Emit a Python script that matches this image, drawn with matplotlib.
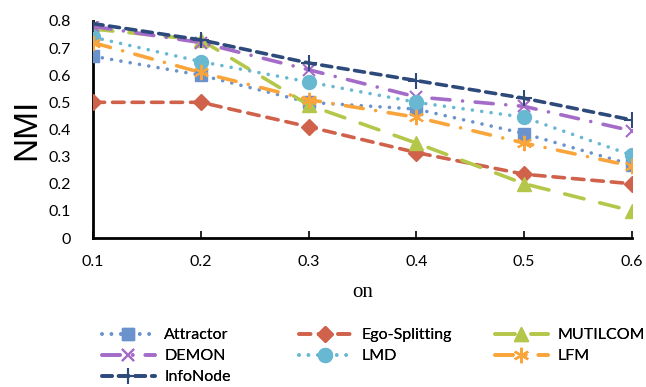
import numpy as np
import matplotlib.pyplot as plt

on = [0.1, 0.2, 0.3, 0.4, 0.5, 0.6]

attractor = [0.67, 0.60, 0.50, 0.475, 0.385, 0.27]
ego_splitting = [0.50, 0.50, 0.41, 0.315, 0.235, 0.20]
mutilcom = [0.77, 0.73, 0.49, 0.35, 0.20, 0.10]
demon = [0.78, 0.72, 0.62, 0.52, 0.485, 0.395]
lmd = [0.74, 0.65, 0.575, 0.50, 0.445, 0.305]
lfm = [0.72, 0.61, 0.51, 0.445, 0.35, 0.265]
infonode = [0.79, 0.73, 0.645, 0.58, 0.515, 0.435]

fig = plt.figure(figsize=(6.46, 3.87), dpi=100)
ax = fig.add_axes([0.144, 0.385, 0.834, 0.561])

lw = 2.6
asterisk = (6, 2, 0)

h_attr, = ax.plot(on, attractor, color='#6A93CD', lw=lw, dashes=(0.01, 2.6),
                  dash_capstyle='round', marker='s', ms=9, label='Attractor')
h_ego, = ax.plot(on, ego_splitting, color='#D0614B', lw=lw, dashes=(3.2, 2.2),
                 dash_capstyle='round', marker='D', ms=8, label='Ego-Splitting')
h_mut, = ax.plot(on, mutilcom, color='#B4C74A', lw=lw, dashes=(5.5, 4.5),
                 dash_capstyle='round', marker='^', ms=10, label='MUTILCOM')
h_dem, = ax.plot(on, demon, color='#A46BC8', lw=lw, dashes=(5, 3.5, 0.01, 3.5),
                 dash_capstyle='round', marker='x', ms=9, mew=1.5, label='DEMON')
h_lmd, = ax.plot(on, lmd, color='#68B8D2', lw=lw, dashes=(0.01, 2.6),
                 dash_capstyle='round', marker='o', ms=10, label='LMD')
h_lfm, = ax.plot(on, lfm, color='#F9A53B', lw=lw, dashes=(5, 3.5, 0.01, 3.5),
                 dash_capstyle='round', marker=asterisk, ms=11, mew=1.5, label='LFM')
h_inf, = ax.plot(on, infonode, color='#2D4A7A', lw=lw, dashes=(2.8, 1.8),
                 dash_capstyle='round', marker='+', ms=11, mew=1.5, label='InfoNode')

ax.set_xlim(0.1, 0.6)
ax.set_ylim(0, 0.8)
ax.set_xticks(on)
ax.set_xticklabels(['0.1', '0.2', '0.3', '0.4', '0.5', '0.6'])
ax.set_yticks(np.arange(0, 0.81, 0.1))
ax.set_yticklabels(['0', '0.1', '0.2', '0.3', '0.4', '0.5', '0.6', '0.7', '0.8'])
for s in ['top', 'right']:
    ax.spines[s].set_visible(False)
for s in ['left', 'bottom']:
    ax.spines[s].set_linewidth(2)
    ax.spines[s].set_color('black')
    ax.spines[s].set_zorder(0)
ax.tick_params(axis='both', direction='in', length=5, width=1.2, labelsize=11.5)
ax.tick_params(axis='x', pad=12)
ax.tick_params(axis='y', pad=16, length=0)
for t in ax.get_xticklabels() + ax.get_yticklabels():
    t.set_fontfamily('Lato')

ax.set_ylabel('NMI', fontsize=24, fontfamily='Liberation Sans', labelpad=4)
ax.set_xlabel('on', fontsize=15, fontfamily='Liberation Serif', labelpad=10)

# legend laid out as three fixed-width columns
columns = [[h_attr, h_dem, h_inf], [h_ego, h_lmd], [h_mut, h_lfm]]
col_x = [0.158, 0.463, 0.766]
for hs, x in zip(columns, col_x):
    leg = fig.legend(handles=hs, labels=[h.get_label() for h in hs],
                     loc='upper left', bbox_to_anchor=(x, 0.152),
                     frameon=False, prop={'family': 'Lato', 'size': 11.5},
                     handlelength=3.3, handletextpad=0.6, labelspacing=0.42,
                     borderaxespad=0, borderpad=0)
    fig.add_artist(leg)

fig.savefig('out.png', dpi=100)
